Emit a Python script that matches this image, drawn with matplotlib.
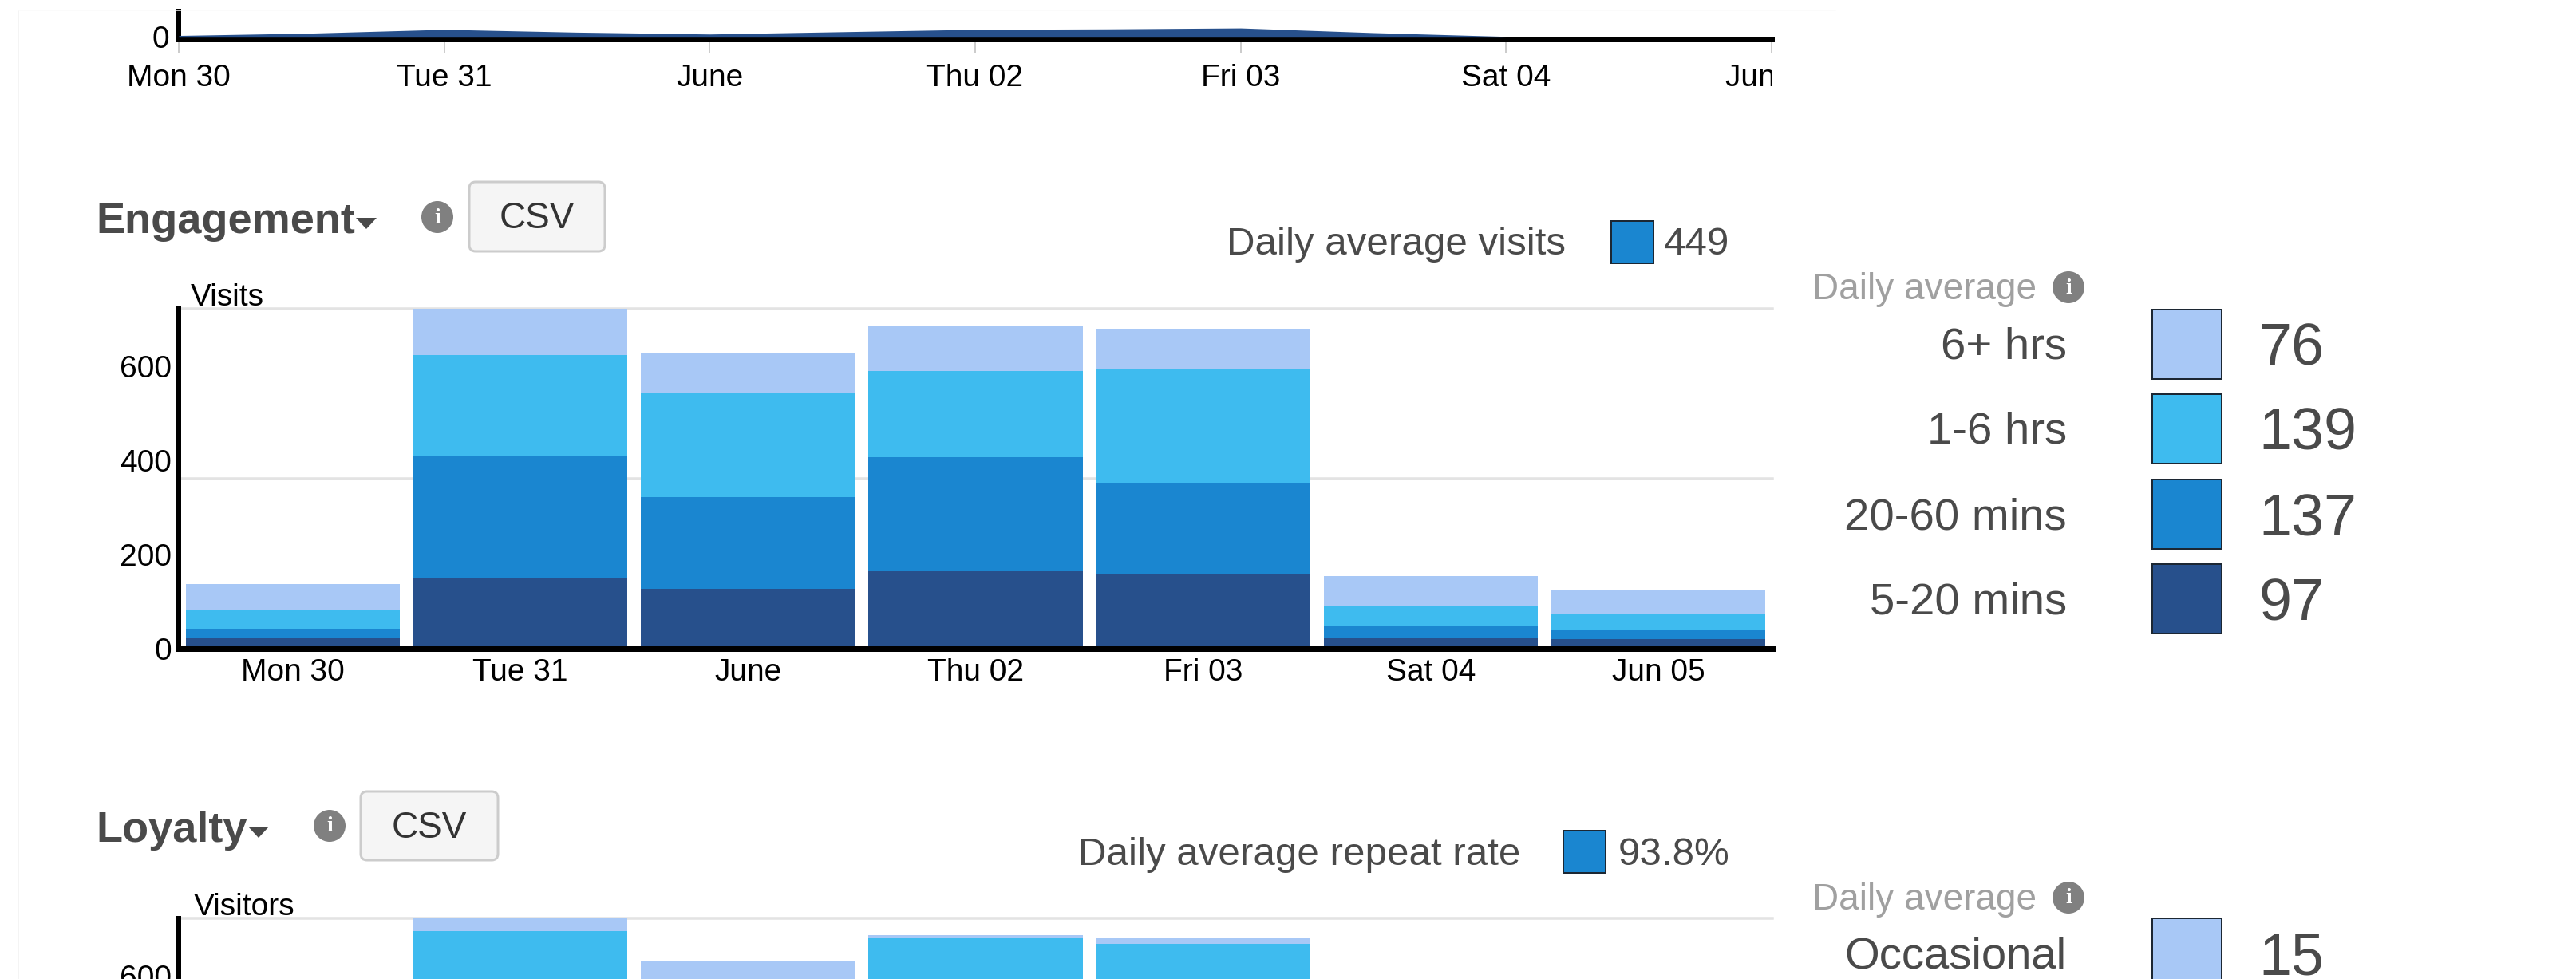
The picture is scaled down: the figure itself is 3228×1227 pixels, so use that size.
import matplotlib
matplotlib.use("Agg")
import numpy as np
import matplotlib.pyplot as plt
from matplotlib.lines import Line2D
from matplotlib.patches import Circle, FancyBboxPatch, Polygon, Rectangle
from matplotlib.transforms import Bbox, ScaledTranslation, TransformedBbox

plt.rcParams["font.family"] = ["Liberation Sans", "DejaVu Sans"]

W, H = 3228, 1227
DPI = 100
PX_PER_UNIT = 0.59

days = ["Mon 30", "Tue 31", "June", "Thu 02", "Fri 03", "Sat 04", "Jun 05"]
y_ticks = [0, 200, 400, 600]
grid_levels = [356, 717]

# top strip, read at half day steps
strip_days = [0, 0.5, 1, 1.5, 2, 2.5, 3, 3.5, 4, 4.5, 5, 5.5, 6]
strip_values = [2, 7, 15, 9, 5, 10, 15, 16, 18, 8, 0, 0, 0]

# engagement segments
eng_5_20 = [18, 146, 122, 160, 154, 19, 16]
eng_20_60 = [20, 259, 195, 241, 193, 23, 19]
eng_1_6 = [40, 213, 220, 184, 241, 44, 35]
eng_6_plus = [55, 99, 86, 96, 87, 63, 48]
eng_labels = ["6+ hrs", "1-6 hrs", "20-60 mins", "5-20 mins"]
eng_avgs = ["76", "139", "137", "97"]

# loyalty, only the top of the stack is in frame
loy_rest = [105, 690, 540, 676, 663, 110, 95]
loy_occasional = [10, 27, 86, 6, 12, 12, 8]

LIGHT = "#a8c8f6"
SKY = "#3ebbef"
MID = "#1a86d0"
DARK = "#27508c"
TEXT = "#4a4a4a"
eng_colors = [LIGHT, SKY, MID, DARK]

fig = plt.figure(figsize=(W / DPI, H / DPI), dpi=DPI, facecolor="white")


def px(v):
    return v * 72 / DPI


def add_axes_px(left, right, top, bottom):
    return fig.add_axes([left / W, 1 - bottom / H, (right - left) / W, (bottom - top) / H])


def style_axes(ax, tick_pad, tick_len=0):
    for s in ["top", "right"]:
        ax.spines[s].set_visible(False)
    ax.spines["left"].set_linewidth(px(6))
    ax.spines["bottom"].set_linewidth(px(7))
    ax.spines["left"].set_color("black")
    ax.spines["bottom"].set_color("black")
    ax.tick_params(axis="y", length=0, pad=px(9), labelsize=28, labelcolor="black")
    ax.tick_params(axis="x", length=px(tick_len), width=px(2), color="#cccccc",
                   pad=px(tick_pad), labelsize=28, labelcolor="black")
    # the y labels sit a little under their level in the original
    shift = ScaledTranslation(0, -px(3) / 72, fig.dpi_scale_trans)
    for lab in ax.get_yticklabels():
        lab.set_transform(lab.get_transform() + shift)


def bar_chart(ax, stack, colors):
    x = np.arange(len(days))
    base = np.zeros(len(days))
    for vals, col in zip(stack, colors):
        ax.bar(x, vals, 0.94, bottom=base, color=col, edgecolor="none", zorder=3)
        base = base + np.array(vals)
    ax.set_xlim(-0.5, 6.5)
    ax.set_xticks(x)
    ax.set_xticklabels(days)
    ax.set_yticks(y_ticks)
    for g in grid_levels:
        ax.axhline(g, color="#e3e3e3", lw=px(3.5), zorder=1, clip_on=False)


# top strip
ax0 = add_axes_px(224, 2220, 14, 49)
ax0.fill_between(strip_days, 0, strip_values, color=DARK, lw=0, zorder=3)
ax0.set_xlim(0, 6)
ax0.set_ylim(-3.3 / PX_PER_UNIT, 31.7 / PX_PER_UNIT)
ax0.set_xticks(range(len(days)))
ax0.set_xticklabels(days)
ax0.set_yticks([0])
style_axes(ax0, 13, 18)
ax0.tick_params(axis="y", pad=px(12))
clip = TransformedBbox(Bbox([[0, 0], [2220 / W, 1]]), fig.transFigure)
for lab in ax0.get_xticklabels():
    lab.set_clip_box(clip)
    lab.set_clip_on(True)

# engagement
ax1 = add_axes_px(224, 2221, 387, 813)
bar_chart(ax1, [eng_5_20, eng_20_60, eng_1_6, eng_6_plus], [DARK, MID, SKY, LIGHT])
ax1.set_ylim(-3 / PX_PER_UNIT, 423 / PX_PER_UNIT)
style_axes(ax1, 12)

# loyalty, runs off the bottom of the picture: only 600 is in frame
ax2 = add_axes_px(224, 2221, 1151, 1577)
bar_chart(ax2, [loy_rest, loy_occasional], [SKY, LIGHT])
ax2.set_ylim(-3 / PX_PER_UNIT, 423 / PX_PER_UNIT)
ax2.set_xticks([])
ax2.set_yticks([600])
style_axes(ax2, 12)

# everything else goes on an overlay in picture pixels
ov = fig.add_axes([0, 0, 1, 1], zorder=5)
ov.set_xlim(0, W)
ov.set_ylim(H, 0)
ov.axis("off")
ov.patch.set_alpha(0)


def info_icon(x, y, r=20):
    ov.add_patch(Circle((x, y), r, color="#808080", lw=0))
    ov.text(x, y + 1, "i", color="white", fontsize=20, fontweight="bold",
            family="Liberation Serif", ha="center", va="center")


def section_head(title, x, base, caret_x, icon_x, btn_x0, btn_x1, btn_y0, btn_y1):
    ov.text(x, base, title, color=TEXT, fontsize=39, fontweight="bold", va="baseline")
    ov.add_patch(Polygon([[caret_x, base - 19], [caret_x + 26, base - 19], [caret_x + 13, base - 5]],
                         color=TEXT, lw=0))
    info_icon(icon_x, base - 20)
    ov.add_patch(FancyBboxPatch((btn_x0 + 8, btn_y0 + 8), btn_x1 - btn_x0 - 16, btn_y1 - btn_y0 - 16,
                                boxstyle="round,pad=8,rounding_size=8", fc="#f5f5f5",
                                ec="#cccccc", lw=px(3)))
    ov.text((btn_x0 + btn_x1) / 2, (btn_y0 + btn_y1) / 2 + 3, "CSV", color="#333333",
            fontsize=33, ha="center", va="center")


def swatch(x0, x1, y0, y1, color):
    ov.add_patch(Rectangle((x0, y0), x1 - x0, y1 - y0, fc=color, ec="#1c2733", lw=px(2)))


def average_line(label, lx, base, sx0, sx1, sy0, sy1, value, vx):
    ov.text(lx, base, label, color=TEXT, fontsize=35.5, va="baseline")
    swatch(sx0, sx1, sy0, sy1, MID)
    ov.text(vx, base, value, color=TEXT, fontsize=35.5, va="baseline")


def daily_head(base):
    ov.text(2271, base, "Daily average", color="#a0a0a0", fontsize=33, va="baseline")
    info_icon(2592, base - 15)


ov.text(239, 383, "Visits", color="black", fontsize=28, va="baseline")
ov.text(243, 1147, "Visitors", color="black", fontsize=28, va="baseline")

section_head("Engagement", 120, 292, 446, 548, 588, 758, 228, 315)
section_head("Loyalty", 120, 1055, 311, 413, 452, 624, 992, 1078)
average_line("Daily average visits", 1537, 319, 2019, 2072, 277, 330, "449", 2085)
average_line("Daily average repeat rate", 1351, 1084, 1959, 2012, 1041, 1094, "93.8%", 2028)

daily_head(375)
label_bases = [450, 556, 663, 769]
value_bases = [457, 564, 671, 777]
swatch_tops = [388, 494, 601, 707]
value_xs = [2830, 2830, 2830, 2830]
for i in range(4):
    ov.text(2590, label_bases[i], eng_labels[i], color=TEXT, fontsize=40.5, ha="right", va="baseline")
    swatch(2697, 2784, swatch_tops[i], swatch_tops[i] + 87, eng_colors[i])
    ov.text(value_xs[i], value_bases[i], eng_avgs[i], color=TEXT, fontsize=53, va="baseline")

daily_head(1140)
ov.text(2590, 1213, "Occasional", color=TEXT, fontsize=40.5, ha="right", va="baseline")
swatch(2697, 2784, 1151, 1239, LIGHT)
ov.text(2830, 1221, "15", color=TEXT, fontsize=53, va="baseline")

# faint page edge
ov.add_line(Line2D([23, 23], [14, H], color="#f4f4f4", lw=px(2)))
ov.add_line(Line2D([23, 2300], [13, 13], color="#fafafa", lw=px(1.5)))

fig.savefig("out.png", dpi=DPI)
